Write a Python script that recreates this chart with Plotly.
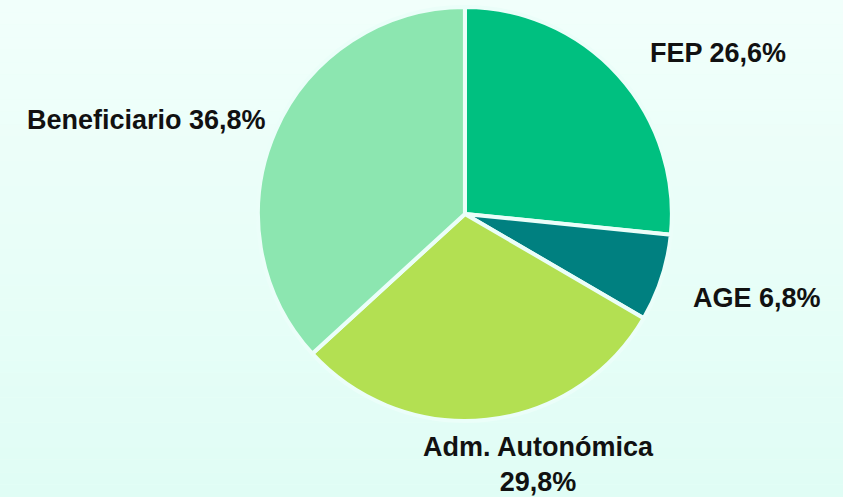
import plotly.graph_objects as go

labels = ["FEP", "AGE", "Adm. Autonómica", "Beneficiario"]
values = [26.6, 6.8, 29.8, 36.8]
colors = ["#00c080", "#008080", "#b3e052", "#8ce6b0"]
line_breaks = [" ", " ", "<br>", " "]

# label placement (paper coords), same order as labels
label_pos = [(0.852, 0.894), (0.898, 0.400), (0.639, 0.066), (0.174, 0.759)]

fig = go.Figure(go.Pie(
    labels=labels, values=values, sort=False, direction="clockwise", rotation=0,
    marker=dict(colors=colors, line=dict(color="#ebfef9", width=4)),
    textinfo="none", hoverinfo="label+percent",
    domain=dict(x=[0.306, 0.797], y=[0.153, 0.986]),
    showlegend=False,
))

total = sum(values)
annotations = []
for lab, v, br, (ax, ay) in zip(labels, values, line_breaks, label_pos):
    pct = ("%.1f%%" % (100 * v / total)).replace(".", ",")
    annotations.append(dict(
        text="<b>%s%s%s</b>" % (lab, br, pct), x=ax, y=ay, xref="paper", yref="paper",
        xanchor="center", yanchor="middle", showarrow=False, align="center",
        font=dict(family="Liberation Sans", size=27, color="#111111"),
    ))

# background vertical gradient
n = 40
top = (241, 255, 251)
bot = (224, 253, 245)
shapes = []
for i in range(n):
    t = i / (n - 1)
    c = tuple(round(top[k] + (bot[k] - top[k]) * t) for k in range(3))
    shapes.append(dict(type="rect", xref="paper", yref="paper", x0=0, x1=1,
                       y0=1 - (i + 1) / n, y1=1 - i / n, line=dict(width=0),
                       fillcolor="rgb(%d,%d,%d)" % c, layer="below"))

fig.update_layout(
    width=843, height=497, margin=dict(l=0, r=0, t=0, b=0),
    paper_bgcolor="#eafef8", plot_bgcolor="rgba(0,0,0,0)",
    shapes=shapes, annotations=annotations,
)
fig.write_html("out.html", config={"displayModeBar": False},
               post_script="document.body.style.margin='0';")
